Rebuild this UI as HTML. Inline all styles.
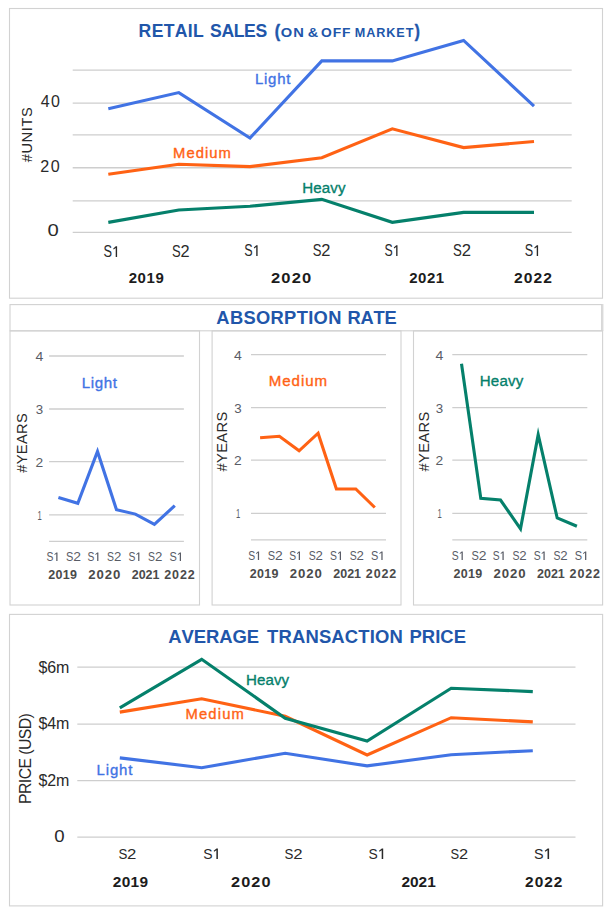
<!DOCTYPE html>
<html><head><meta charset="utf-8"><title>Charts</title>
<style>
html,body{margin:0;padding:0;background:#fff;}
svg{display:block;font-family:"Liberation Sans",sans-serif;font-kerning:none;}
text{white-space:pre;}
</style></head>
<body>
<svg width="610" height="913" viewBox="0 0 610 913">
<rect x="0" y="0" width="610" height="913" fill="#ffffff"/>
<rect x="9.5" y="8.5" width="593.00" height="289.70" fill="none" stroke="#d2d2d2" stroke-width="1.1"/>
<text x="138.62" y="37" font-size="17.59" font-weight="700" fill="#2156aa" letter-spacing="0.342">RETAIL</text>
<text x="210.09" y="37" font-size="17.59" font-weight="700" fill="#2156aa" letter-spacing="-0.386">SALES</text>
<text transform="translate(274.76,37) scale(0.8776,1)" font-size="18.17" font-weight="700" fill="#2156aa" stroke="#2156aa" stroke-width="0.5" stroke-linejoin="round">(</text>
<text transform="translate(280.70,37) scale(1.1906,1)" font-size="12.35" font-weight="700" fill="#2156aa" letter-spacing="0.865">ON</text>
<text transform="translate(307.76,37) scale(1.0748,1)" font-size="13.52" font-weight="700" fill="#2156aa">&amp;</text>
<text transform="translate(320.93,37) scale(1.1188,1)" font-size="12.35" font-weight="700" fill="#2156aa" letter-spacing="0.865">OFF</text>
<text transform="translate(354.85,37) scale(1.0247,1)" font-size="12.35" font-weight="700" fill="#2156aa" letter-spacing="0.865">MARKET</text>
<text transform="translate(414.84,37) scale(0.8386,1)" font-size="18.17" font-weight="700" fill="#2156aa" stroke="#2156aa" stroke-width="0.5" stroke-linejoin="round">)</text>
<line x1="72.7" y1="70.1" x2="571.7" y2="70.1" stroke="#cecece" stroke-width="1.3"/>
<line x1="72.7" y1="103.15" x2="571.7" y2="103.15" stroke="#cecece" stroke-width="1.3"/>
<line x1="72.7" y1="134.9" x2="571.7" y2="134.9" stroke="#cecece" stroke-width="1.3"/>
<line x1="72.7" y1="167.75" x2="571.7" y2="167.75" stroke="#cecece" stroke-width="1.3"/>
<line x1="72.7" y1="200.9" x2="571.7" y2="200.9" stroke="#cecece" stroke-width="1.3"/>
<line x1="72.7" y1="232.3" x2="571.7" y2="232.3" stroke="#cecece" stroke-width="1.3"/>
<text x="40.63" y="107" font-size="15.99" font-weight="400" fill="#2a2a2a" letter-spacing="1.407">40</text>
<text transform="translate(40.19,172) scale(1.0092,1)" font-size="15.99" font-weight="400" fill="#2a2a2a" letter-spacing="1.679">20</text>
<text transform="translate(47.51,236) scale(1.2691,1)" font-size="15.99" font-weight="400" fill="#2a2a2a">0</text>
<g transform="translate(31.60,162.30) rotate(-90)"><text x="-0.06" y="0" font-size="14.68" font-weight="400" fill="#2a2a2a" letter-spacing="0.586">#UNITS</text></g>
<polyline points="108.3,108.7 178.8,92.6 250.0,138.0 321.8,60.9 392.3,60.9 463.6,40.4 534.0,106.1" fill="none" stroke="#4173e4" stroke-width="3.1" stroke-linejoin="miter" stroke-miterlimit="10"/>
<polyline points="108.3,174.3 178.8,164.3 250.0,166.6 321.8,157.8 392.3,128.8 463.6,147.6 534.0,141.5" fill="none" stroke="#ff6214" stroke-width="3.1" stroke-linejoin="miter" stroke-miterlimit="10"/>
<polyline points="108.3,222.4 178.8,210.0 250.0,206.2 321.8,199.4 392.3,222.3 463.6,212.4 534.0,212.4" fill="none" stroke="#05806b" stroke-width="3.1" stroke-linejoin="miter" stroke-miterlimit="10"/>
<text x="254.95" y="84" font-size="14.96" font-weight="400" fill="#4173e4" letter-spacing="0.763" stroke="#4173e4" stroke-width="0.35" stroke-linejoin="round">Light</text>
<text x="173.06" y="158" font-size="14.81" font-weight="400" fill="#ff6214" letter-spacing="1.053" stroke="#ff6214" stroke-width="0.35" stroke-linejoin="round">Medium</text>
<text x="302.14" y="193" font-size="15.10" font-weight="400" fill="#05806b" letter-spacing="0.153" stroke="#05806b" stroke-width="0.35" stroke-linejoin="round">Heavy</text>
<text transform="translate(103.62,257) scale(0.7989,1)" font-size="15.99" font-weight="400" fill="#2a2a2a">S</text>
<path d="M117.10,246.30 L117.10,257.00 L115.71,257.00 L115.71,247.96 L113.69,249.51 L113.23,248.44 L115.85,246.30Z" fill="#2a2a2a"/>
<text transform="translate(172.01,257) scale(0.8096,1)" font-size="15.99" font-weight="400" fill="#2a2a2a">S</text>
<text transform="translate(180.53,257) scale(1.0231,1)" font-size="15.99" font-weight="400" fill="#2a2a2a">2</text>
<text transform="translate(244.33,256) scale(0.7865,1)" font-size="15.99" font-weight="400" fill="#2a2a2a">S</text>
<path d="M257.60,245.30 L257.60,256.00 L256.23,256.00 L256.23,246.96 L254.25,248.51 L253.79,247.44 L256.37,245.30Z" fill="#2a2a2a"/>
<text transform="translate(312.81,256) scale(0.8146,1)" font-size="15.99" font-weight="400" fill="#2a2a2a">S</text>
<text transform="translate(321.37,256) scale(1.0294,1)" font-size="15.99" font-weight="400" fill="#2a2a2a">2</text>
<text transform="translate(384.54,256) scale(0.7679,1)" font-size="15.99" font-weight="400" fill="#2a2a2a">S</text>
<path d="M397.50,245.30 L397.50,256.00 L396.16,256.00 L396.16,246.96 L394.23,248.51 L393.78,247.44 L396.29,245.30Z" fill="#2a2a2a"/>
<text transform="translate(453.10,256) scale(0.8246,1)" font-size="15.99" font-weight="400" fill="#2a2a2a">S</text>
<text transform="translate(461.77,256) scale(1.0420,1)" font-size="15.99" font-weight="400" fill="#2a2a2a">2</text>
<text transform="translate(524.83,256) scale(0.7865,1)" font-size="15.99" font-weight="400" fill="#2a2a2a">S</text>
<path d="M538.10,245.30 L538.10,256.00 L536.73,256.00 L536.73,246.96 L534.75,248.51 L534.29,247.44 L536.87,245.30Z" fill="#2a2a2a"/>
<text x="128.68" y="283" font-size="14.97" font-weight="700" fill="#1c1c1c" letter-spacing="0.590">2019</text>
<text transform="translate(270.93,283) scale(1.1043,1)" font-size="14.97" font-weight="700" fill="#1c1c1c" letter-spacing="1.048">2020</text>
<text x="409.18" y="283" font-size="14.97" font-weight="700" fill="#1c1c1c" letter-spacing="0.544">2021</text>
<text transform="translate(513.96,283) scale(1.0444,1)" font-size="14.97" font-weight="700" fill="#1c1c1c" letter-spacing="1.048">2022</text>
<rect x="10.0" y="304.6" width="591.70" height="26.20" fill="none" stroke="#d2d2d2" stroke-width="1.1"/>
<line x1="602.8" y1="304.1" x2="602.8" y2="331.0" stroke="#d2d2d2" stroke-width="1.1"/>
<text x="216.34" y="324" font-size="18.31" font-weight="700" fill="#2156aa" letter-spacing="0.343">ABSORPTION</text>
<text x="347.57" y="324" font-size="18.31" font-weight="700" fill="#2156aa" letter-spacing="-0.238">RATE</text>
<rect x="10.0" y="330.9" width="189.50" height="274.10" fill="none" stroke="#d2d2d2" stroke-width="1.1"/>
<line x1="49.1" y1="356.0" x2="183.9" y2="356.0" stroke="#cecece" stroke-width="1.3"/>
<line x1="49.1" y1="409.0" x2="183.9" y2="409.0" stroke="#cecece" stroke-width="1.3"/>
<line x1="49.1" y1="461.6" x2="183.9" y2="461.6" stroke="#cecece" stroke-width="1.3"/>
<line x1="49.1" y1="514.8" x2="183.9" y2="514.8" stroke="#cecece" stroke-width="1.3"/>
<line x1="49.1" y1="541.3" x2="183.9" y2="541.3" stroke="#cecece" stroke-width="1.3"/>
<text transform="translate(35.48,361) scale(1.1016,1)" font-size="12.79" font-weight="400" fill="#595c66">4</text>
<text transform="translate(35.79,414) scale(1.0388,1)" font-size="12.79" font-weight="400" fill="#595c66">3</text>
<text transform="translate(35.60,467) scale(1.0812,1)" font-size="12.79" font-weight="400" fill="#595c66">2</text>
<text transform="translate(37.42,520) scale(0.5984,1)" font-size="12.79" font-weight="400" fill="#595c66">1</text>
<g transform="translate(26.60,472.80) rotate(-90)"><text x="-0.06" y="0" font-size="14.68" font-weight="400" fill="#2a2a2a" letter-spacing="0.361">#YEARS</text></g>
<polyline points="58.4,497.4 77.8,503.3 97.5,451.5 116.5,509.8 135.4,514.1 154.4,524.4 174.8,505.6" fill="none" stroke="#4173e4" stroke-width="3.1" stroke-linejoin="miter" stroke-miterlimit="10"/>
<text x="81.64" y="388" font-size="15.10" font-weight="400" fill="#4173e4" letter-spacing="0.663" stroke="#4173e4" stroke-width="0.35" stroke-linejoin="round">Light</text>
<text transform="translate(46.53,561) scale(0.8128,1)" font-size="12.79" font-weight="400" fill="#595c66">S</text>
<path d="M57.50,552.50 L57.50,561.00 L56.25,561.00 L56.25,553.82 L54.73,555.05 L54.35,554.20 L56.38,552.50Z" fill="#595c66"/>
<text transform="translate(66.10,561) scale(0.8621,1)" font-size="12.79" font-weight="400" fill="#595c66">S</text>
<text transform="translate(73.35,561) scale(1.0894,1)" font-size="12.79" font-weight="400" fill="#595c66">2</text>
<text transform="translate(87.53,561) scale(0.8050,1)" font-size="12.79" font-weight="400" fill="#595c66">S</text>
<path d="M98.40,552.50 L98.40,561.00 L97.15,561.00 L97.15,553.82 L95.65,555.05 L95.28,554.20 L97.28,552.50Z" fill="#595c66"/>
<text transform="translate(107.12,561) scale(0.8184,1)" font-size="12.79" font-weight="400" fill="#595c66">S</text>
<text transform="translate(114.01,561) scale(1.0341,1)" font-size="12.79" font-weight="400" fill="#595c66">2</text>
<text transform="translate(128.43,561) scale(0.8128,1)" font-size="12.79" font-weight="400" fill="#595c66">S</text>
<path d="M139.40,552.50 L139.40,561.00 L138.15,561.00 L138.15,553.82 L136.63,555.05 L136.25,554.20 L138.28,552.50Z" fill="#595c66"/>
<text transform="translate(148.12,561) scale(0.8184,1)" font-size="12.79" font-weight="400" fill="#595c66">S</text>
<text transform="translate(155.01,561) scale(1.0341,1)" font-size="12.79" font-weight="400" fill="#595c66">2</text>
<text transform="translate(169.40,561) scale(0.8592,1)" font-size="12.79" font-weight="400" fill="#595c66">S</text>
<path d="M181.00,552.50 L181.00,561.00 L179.75,561.00 L179.75,553.82 L178.07,555.05 L177.67,554.20 L179.88,552.50Z" fill="#595c66"/>
<text x="48.17" y="579" font-size="12.50" font-weight="700" fill="#4a4a4a" letter-spacing="0.330">2019</text>
<text transform="translate(88.14,579) scale(1.0581,1)" font-size="12.50" font-weight="700" fill="#4a4a4a" letter-spacing="0.875">2020</text>
<text x="131.77" y="579" font-size="12.50" font-weight="700" fill="#4a4a4a" letter-spacing="-0.042">2021</text>
<text transform="translate(164.27,579) scale(1.0000,1)" font-size="12.50" font-weight="700" fill="#4a4a4a" letter-spacing="0.875">2022</text>
<rect x="212.1" y="330.9" width="188.90" height="274.10" fill="none" stroke="#d2d2d2" stroke-width="1.1"/>
<line x1="251.0" y1="354.6" x2="386.0" y2="354.6" stroke="#cecece" stroke-width="1.3"/>
<line x1="251.0" y1="407.6" x2="386.0" y2="407.6" stroke="#cecece" stroke-width="1.3"/>
<line x1="251.0" y1="460.20000000000005" x2="386.0" y2="460.20000000000005" stroke="#cecece" stroke-width="1.3"/>
<line x1="251.0" y1="513.4" x2="386.0" y2="513.4" stroke="#cecece" stroke-width="1.3"/>
<line x1="251.0" y1="539.9" x2="386.0" y2="539.9" stroke="#cecece" stroke-width="1.3"/>
<text transform="translate(233.98,360) scale(1.1016,1)" font-size="12.79" font-weight="400" fill="#595c66">4</text>
<text transform="translate(234.29,413) scale(1.0388,1)" font-size="12.79" font-weight="400" fill="#595c66">3</text>
<text transform="translate(234.10,465) scale(1.0812,1)" font-size="12.79" font-weight="400" fill="#595c66">2</text>
<text transform="translate(235.92,518) scale(0.5984,1)" font-size="12.79" font-weight="400" fill="#595c66">1</text>
<g transform="translate(226.60,471.40) rotate(-90)"><text x="-0.06" y="0" font-size="14.68" font-weight="400" fill="#2a2a2a" letter-spacing="0.361">#YEARS</text></g>
<polyline points="260.1,437.7 279.4,436.3 299.1,450.8 318.1,433.2 336.4,489.0 355.8,489.0 374.8,507.5" fill="none" stroke="#ff6214" stroke-width="3.1" stroke-linejoin="miter" stroke-miterlimit="10"/>
<text x="268.84" y="386" font-size="15.10" font-weight="400" fill="#ff6214" letter-spacing="0.914" stroke="#ff6214" stroke-width="0.35" stroke-linejoin="round">Medium</text>
<text transform="translate(248.13,560) scale(0.8128,1)" font-size="12.79" font-weight="400" fill="#595c66">S</text>
<path d="M259.10,551.50 L259.10,560.00 L257.85,560.00 L257.85,552.82 L256.33,554.05 L255.95,553.20 L257.98,551.50Z" fill="#595c66"/>
<text transform="translate(267.70,560) scale(0.8621,1)" font-size="12.79" font-weight="400" fill="#595c66">S</text>
<text transform="translate(274.95,560) scale(1.0894,1)" font-size="12.79" font-weight="400" fill="#595c66">2</text>
<text transform="translate(289.13,560) scale(0.8050,1)" font-size="12.79" font-weight="400" fill="#595c66">S</text>
<path d="M300.00,551.50 L300.00,560.00 L298.75,560.00 L298.75,552.82 L297.25,554.05 L296.88,553.20 L298.88,551.50Z" fill="#595c66"/>
<text transform="translate(308.72,560) scale(0.8184,1)" font-size="12.79" font-weight="400" fill="#595c66">S</text>
<text transform="translate(315.61,560) scale(1.0341,1)" font-size="12.79" font-weight="400" fill="#595c66">2</text>
<text transform="translate(330.03,560) scale(0.8128,1)" font-size="12.79" font-weight="400" fill="#595c66">S</text>
<path d="M341.00,551.50 L341.00,560.00 L339.75,560.00 L339.75,552.82 L338.23,554.05 L337.85,553.20 L339.88,551.50Z" fill="#595c66"/>
<text transform="translate(349.72,560) scale(0.8184,1)" font-size="12.79" font-weight="400" fill="#595c66">S</text>
<text transform="translate(356.61,560) scale(1.0341,1)" font-size="12.79" font-weight="400" fill="#595c66">2</text>
<text transform="translate(371.00,560) scale(0.8592,1)" font-size="12.79" font-weight="400" fill="#595c66">S</text>
<path d="M382.60,551.50 L382.60,560.00 L381.35,560.00 L381.35,552.82 L379.67,554.05 L379.27,553.20 L381.48,551.50Z" fill="#595c66"/>
<text x="249.77" y="578" font-size="12.50" font-weight="700" fill="#4a4a4a" letter-spacing="0.330">2019</text>
<text transform="translate(289.74,578) scale(1.0581,1)" font-size="12.50" font-weight="700" fill="#4a4a4a" letter-spacing="0.875">2020</text>
<text x="333.37" y="578" font-size="12.50" font-weight="700" fill="#4a4a4a" letter-spacing="-0.042">2021</text>
<text transform="translate(365.87,578) scale(1.0000,1)" font-size="12.50" font-weight="700" fill="#4a4a4a" letter-spacing="0.875">2022</text>
<rect x="413.5" y="330.9" width="189.10" height="274.10" fill="none" stroke="#d2d2d2" stroke-width="1.1"/>
<line x1="452.3" y1="354.6" x2="587.3" y2="354.6" stroke="#cecece" stroke-width="1.3"/>
<line x1="452.3" y1="407.6" x2="587.3" y2="407.6" stroke="#cecece" stroke-width="1.3"/>
<line x1="452.3" y1="460.20000000000005" x2="587.3" y2="460.20000000000005" stroke="#cecece" stroke-width="1.3"/>
<line x1="452.3" y1="513.4" x2="587.3" y2="513.4" stroke="#cecece" stroke-width="1.3"/>
<line x1="452.3" y1="539.9" x2="587.3" y2="539.9" stroke="#cecece" stroke-width="1.3"/>
<text transform="translate(435.48,360) scale(1.1016,1)" font-size="12.79" font-weight="400" fill="#595c66">4</text>
<text transform="translate(435.79,413) scale(1.0388,1)" font-size="12.79" font-weight="400" fill="#595c66">3</text>
<text transform="translate(435.60,465) scale(1.0812,1)" font-size="12.79" font-weight="400" fill="#595c66">2</text>
<text transform="translate(437.42,518) scale(0.5984,1)" font-size="12.79" font-weight="400" fill="#595c66">1</text>
<g transform="translate(428.60,471.40) rotate(-90)"><text x="-0.06" y="0" font-size="14.68" font-weight="400" fill="#2a2a2a" letter-spacing="0.361">#YEARS</text></g>
<polyline points="461.5,363.8 480.8,498.4 500.5,500.0 520.5,528.8 538.2,434.6 557.2,518.0 576.9,526.2" fill="none" stroke="#05806b" stroke-width="3.1" stroke-linejoin="miter" stroke-miterlimit="10"/>
<text x="479.74" y="386" font-size="15.10" font-weight="400" fill="#05806b" letter-spacing="0.178" stroke="#05806b" stroke-width="0.35" stroke-linejoin="round">Heavy</text>
<text transform="translate(451.83,560) scale(0.8128,1)" font-size="12.79" font-weight="400" fill="#595c66">S</text>
<path d="M462.80,551.50 L462.80,560.00 L461.55,560.00 L461.55,552.82 L460.03,554.05 L459.65,553.20 L461.68,551.50Z" fill="#595c66"/>
<text transform="translate(471.40,560) scale(0.8621,1)" font-size="12.79" font-weight="400" fill="#595c66">S</text>
<text transform="translate(478.65,560) scale(1.0894,1)" font-size="12.79" font-weight="400" fill="#595c66">2</text>
<text transform="translate(492.83,560) scale(0.8050,1)" font-size="12.79" font-weight="400" fill="#595c66">S</text>
<path d="M503.70,551.50 L503.70,560.00 L502.45,560.00 L502.45,552.82 L500.95,554.05 L500.58,553.20 L502.58,551.50Z" fill="#595c66"/>
<text transform="translate(512.42,560) scale(0.8184,1)" font-size="12.79" font-weight="400" fill="#595c66">S</text>
<text transform="translate(519.31,560) scale(1.0341,1)" font-size="12.79" font-weight="400" fill="#595c66">2</text>
<text transform="translate(533.73,560) scale(0.8128,1)" font-size="12.79" font-weight="400" fill="#595c66">S</text>
<path d="M544.70,551.50 L544.70,560.00 L543.45,560.00 L543.45,552.82 L541.93,554.05 L541.55,553.20 L543.58,551.50Z" fill="#595c66"/>
<text transform="translate(553.42,560) scale(0.8184,1)" font-size="12.79" font-weight="400" fill="#595c66">S</text>
<text transform="translate(560.31,560) scale(1.0341,1)" font-size="12.79" font-weight="400" fill="#595c66">2</text>
<text transform="translate(574.70,560) scale(0.8592,1)" font-size="12.79" font-weight="400" fill="#595c66">S</text>
<path d="M586.30,551.50 L586.30,560.00 L585.05,560.00 L585.05,552.82 L583.37,554.05 L582.97,553.20 L585.17,551.50Z" fill="#595c66"/>
<text x="453.47" y="578" font-size="12.50" font-weight="700" fill="#4a4a4a" letter-spacing="0.330">2019</text>
<text transform="translate(493.44,578) scale(1.0581,1)" font-size="12.50" font-weight="700" fill="#4a4a4a" letter-spacing="0.875">2020</text>
<text x="537.07" y="578" font-size="12.50" font-weight="700" fill="#4a4a4a" letter-spacing="-0.042">2021</text>
<text transform="translate(569.57,578) scale(1.0000,1)" font-size="12.50" font-weight="700" fill="#4a4a4a" letter-spacing="0.875">2022</text>
<rect x="9.5" y="614.4" width="593.10" height="291.50" fill="none" stroke="#d2d2d2" stroke-width="1.1"/>
<text x="168.24" y="643" font-size="18.46" font-weight="700" fill="#2156aa" letter-spacing="-0.051">AVERAGE</text>
<text x="267.09" y="643" font-size="18.46" font-weight="700" fill="#2156aa" letter-spacing="0.151">TRANSACTION</text>
<text x="409.57" y="643" font-size="18.46" font-weight="700" fill="#2156aa" letter-spacing="0.010">PRICE</text>
<line x1="77.3" y1="667.1" x2="575.5" y2="667.1" stroke="#cecece" stroke-width="1.2"/>
<line x1="77.3" y1="724.1" x2="575.5" y2="724.1" stroke="#cecece" stroke-width="1.2"/>
<line x1="77.3" y1="780.7" x2="575.5" y2="780.7" stroke="#cecece" stroke-width="1.2"/>
<line x1="77.3" y1="837.2" x2="575.5" y2="837.2" stroke="#cecece" stroke-width="1.2"/>
<text x="38.53" y="673" font-size="15.99" font-weight="400" fill="#2a2a2a" letter-spacing="-0.089">$6m</text>
<text x="38.53" y="729" font-size="15.99" font-weight="400" fill="#2a2a2a" letter-spacing="-0.089">$4m</text>
<text x="38.53" y="786" font-size="15.99" font-weight="400" fill="#2a2a2a" letter-spacing="-0.089">$2m</text>
<text transform="translate(54.37,842) scale(1.1645,1)" font-size="15.99" font-weight="400" fill="#2a2a2a">0</text>
<g transform="translate(31.40,802.70) rotate(-90)"><text x="-1.30" y="0" font-size="15.84" font-weight="400" fill="#2a2a2a" letter-spacing="-0.584">PRICE (USD)</text></g>
<polyline points="119.8,757.9 201.7,767.7 285.2,753.2 367.1,765.9 451.2,754.7 532.8,750.7" fill="none" stroke="#4173e4" stroke-width="3.1" stroke-linejoin="miter" stroke-miterlimit="10"/>
<polyline points="119.8,712.1 201.7,698.8 285.2,716.3 367.1,755.0 451.2,717.7 532.8,721.9" fill="none" stroke="#ff6214" stroke-width="3.1" stroke-linejoin="miter" stroke-miterlimit="10"/>
<polyline points="119.8,707.8 201.7,659.3 285.2,718.3 367.1,741.0 451.2,688.2 532.8,691.6" fill="none" stroke="#05806b" stroke-width="3.1" stroke-linejoin="miter" stroke-miterlimit="10"/>
<text x="246.04" y="685" font-size="15.10" font-weight="400" fill="#05806b" letter-spacing="0.078" stroke="#05806b" stroke-width="0.35" stroke-linejoin="round">Heavy</text>
<text x="185.46" y="719" font-size="14.81" font-weight="400" fill="#ff6214" letter-spacing="1.173" stroke="#ff6214" stroke-width="0.35" stroke-linejoin="round">Medium</text>
<text x="96.55" y="775" font-size="14.96" font-weight="400" fill="#4173e4" letter-spacing="0.863" stroke="#4173e4" stroke-width="0.35" stroke-linejoin="round">Light</text>
<text transform="translate(118.40,859) scale(0.8529,1)" font-size="15.55" font-weight="400" fill="#2a2a2a">S</text>
<text transform="translate(127.12,859) scale(1.0777,1)" font-size="15.55" font-weight="400" fill="#2a2a2a">2</text>
<text transform="translate(203.17,859) scale(0.8977,1)" font-size="15.55" font-weight="400" fill="#2a2a2a">S</text>
<path d="M217.90,848.60 L217.90,859.00 L216.38,859.00 L216.38,850.21 L214.18,851.72 L213.67,850.68 L216.53,848.60Z" fill="#2a2a2a"/>
<text transform="translate(284.60,859) scale(0.8529,1)" font-size="15.55" font-weight="400" fill="#2a2a2a">S</text>
<text transform="translate(293.32,859) scale(1.0777,1)" font-size="15.55" font-weight="400" fill="#2a2a2a">2</text>
<text transform="translate(368.57,859) scale(0.8913,1)" font-size="15.55" font-weight="400" fill="#2a2a2a">S</text>
<path d="M383.20,848.60 L383.20,859.00 L381.69,859.00 L381.69,850.21 L379.50,851.72 L379.00,850.68 L381.84,848.60Z" fill="#2a2a2a"/>
<text transform="translate(450.41,859) scale(0.8323,1)" font-size="15.55" font-weight="400" fill="#2a2a2a">S</text>
<text transform="translate(458.93,859) scale(1.0518,1)" font-size="15.55" font-weight="400" fill="#2a2a2a">2</text>
<text transform="translate(533.95,859) scale(0.9231,1)" font-size="15.55" font-weight="400" fill="#2a2a2a">S</text>
<path d="M549.10,848.60 L549.10,859.00 L547.53,859.00 L547.53,850.21 L545.27,851.72 L544.75,850.68 L547.69,848.60Z" fill="#2a2a2a"/>
<text x="112.87" y="887" font-size="15.41" font-weight="700" fill="#1c1c1c" letter-spacing="0.310">2019</text>
<text transform="translate(230.94,887) scale(1.0566,1)" font-size="15.41" font-weight="700" fill="#1c1c1c" letter-spacing="1.079">2020</text>
<text x="401.47" y="887" font-size="15.41" font-weight="700" fill="#1c1c1c" letter-spacing="-0.004">2021</text>
<text x="525.07" y="887" font-size="15.41" font-weight="700" fill="#1c1c1c" letter-spacing="1.025">2022</text>
</svg>
</body></html>
